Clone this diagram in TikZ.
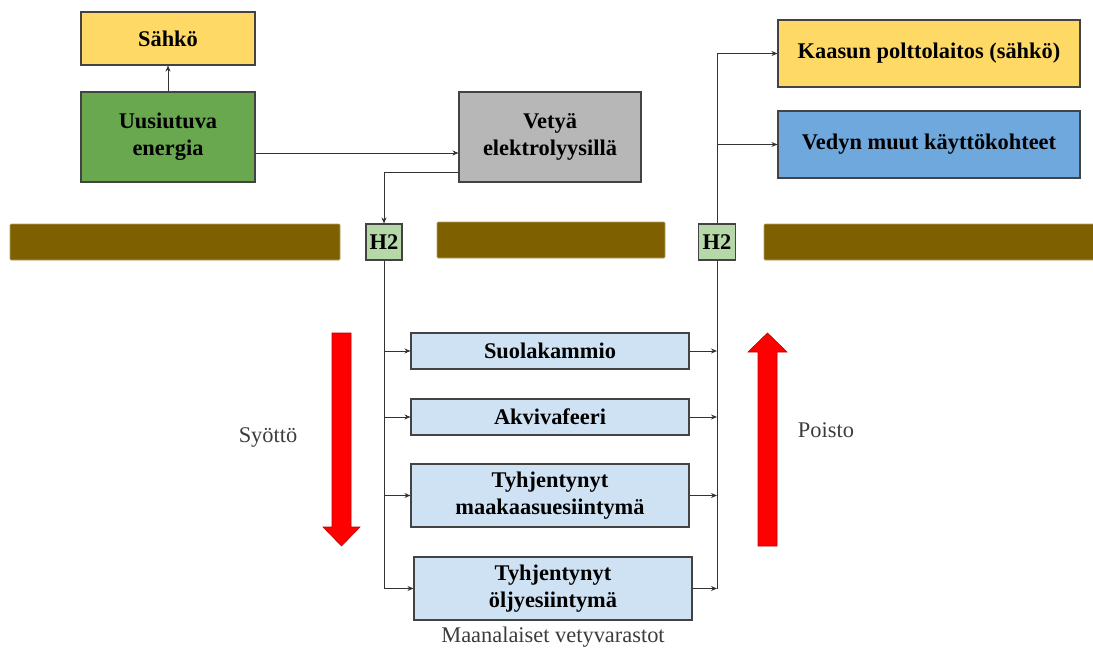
\documentclass[tikz,border=0pt]{standalone}
\usepackage{fontspec}
\setmainfont{Liberation Serif}
\usetikzlibrary{arrows.meta}
\definecolor{cyel}{HTML}{FFD966}
\definecolor{cgreen}{HTML}{6AA84F}
\definecolor{cgray}{HTML}{B7B7B7}
\definecolor{cblue}{HTML}{6FA8DC}
\definecolor{clblue}{HTML}{CFE2F3}
\definecolor{clgreen}{HTML}{B6D7A8}
\definecolor{cbrown}{HTML}{7F6000}
\definecolor{cline}{HTML}{333333}
\definecolor{cedge}{HTML}{434343}
\definecolor{ctext}{HTML}{3C3C3C}
\tikzset{
  box/.style={draw=cedge, line width=1.1pt, align=center, inner sep=0pt,
    font=\fontsize{22.4}{27}\selectfont\bfseries, text=black},
  ground/.style={fill=cbrown, draw=cbrown!60!white, line width=0.6pt, rounded corners=1pt, inner sep=0pt},
  conn/.style={draw=cline, line width=0.9pt},
  arr/.style={conn, -{Stealth[length=6pt,width=5pt]}},
  bigarrow/.style={fill=red, draw=red!75!black, line width=0.6pt},
  lbl/.style={font=\fontsize{22.4}{27}\selectfont, text=ctext}
}
\begin{document}
\begin{tikzpicture}[x=1pt,y=-1pt]
\useasboundingbox (0,0) rectangle (1093,650);
% top boxes
\node[box, fill=cyel, minimum width=174pt, minimum height=53pt] (sah) at (168,38.5) {Sähkö};
\node[box, fill=cgreen, minimum width=174pt, minimum height=90pt] (uus) at (168,137) {Uusiutuva\\energia};
\node[box, fill=cgray, minimum width=182pt, minimum height=90pt] (vet) at (550,137) {Vetyä\\elektrolyysillä};
\node[box, fill=cyel, minimum width=302pt, minimum height=67pt] (kaa) at (929,53.5) {Kaasun polttolaitos (sähkö)};
\node[box, fill=cblue, minimum width=302pt, minimum height=67pt] (ved) at (929,144.5) {Vedyn muut käyttökohteet};
% ground
\node[ground, minimum width=330pt, minimum height=36pt] (g1) at (175,242) {};
\node[ground, minimum width=228pt, minimum height=36pt] (g2) at (551,240) {};
\node[ground, minimum width=330pt, minimum height=36pt] (g3) at (929,242) {};
% H2
\node[box, fill=clgreen, minimum width=36pt, minimum height=36pt] (h2l) at (384,242) {H2};
\node[box, fill=clgreen, minimum width=37pt, minimum height=36pt] (h2r) at (717,242) {H2};
% storage
\node[box, fill=clblue, minimum width=278pt, minimum height=36pt] (suo) at (550,351) {Suolakammio};
\node[box, fill=clblue, minimum width=278pt, minimum height=36pt] (akv) at (550,417) {Akvivafeeri};
\node[box, fill=clblue, minimum width=278pt, minimum height=63pt] (maa) at (550,495.5) {Tyhjentynyt\\maakaasuesiintymä};
\node[box, fill=clblue, minimum width=278pt, minimum height=63pt] (olj) at (553,588.5) {Tyhjentynyt\\öljyesiintymä};
% labels
\node[lbl] (syo) at (268,437) {Syöttö};
\node[lbl] (poi) at (826,430) {Poisto};
\node[lbl] (maan) at (553,637) {Maanalaiset vetyvarastot};
% helper coordinates
\coordinate (yA) at (0,153);
\coordinate (yB) at (0,172.5);
\coordinate (xL) at (386,0);
\coordinate (xR) at (719,0);
\coordinate (yTop) at (0,55);
% connectors top
\draw[arr] (uus.north) -- (sah.south);
\draw[arr] (uus.east |- yA) -- (vet.west |- yA);
\draw[arr] (vet.west |- yB) -- (h2l.north |- yB) -- (h2l.north);
% left distribution
\draw[conn] (h2l.south) -- (h2l.south |- olj.west);
\draw[arr] (h2l.south |- olj.west) -- (olj.west);
\draw[arr] (h2l.south |- suo.west) -- (suo.west);
\draw[arr] (h2l.south |- akv.west) -- (akv.west);
\draw[arr] (h2l.south |- maa.west) -- (maa.west);
% right collection
\draw[conn] (h2r.south) -- (h2r.south |- olj.east);
\draw[arr] (suo.east) -- (suo.east -| h2r.south);
\draw[arr] (akv.east) -- (akv.east -| h2r.south);
\draw[arr] (maa.east) -- (maa.east -| h2r.south);
\draw[arr] (olj.east) -- (olj.east -| h2r.south);
% right top
\draw[conn] (h2r.north) -- (h2r.north |- kaa.west);
\draw[arr] (h2r.north |- kaa.west) -- (kaa.west);
\draw[arr] (h2r.north |- ved.west) -- (ved.west);
% big red arrows
\draw[bigarrow] (332,333) -- (351,333) -- (351,527) -- (360,527) -- (341.5,546) -- (323,527) -- (332,527) -- cycle;
\draw[bigarrow] (758,546) -- (777,546) -- (777,352) -- (787,352) -- (767.5,333) -- (748,352) -- (758,352) -- cycle;
\end{tikzpicture}
\end{document}
